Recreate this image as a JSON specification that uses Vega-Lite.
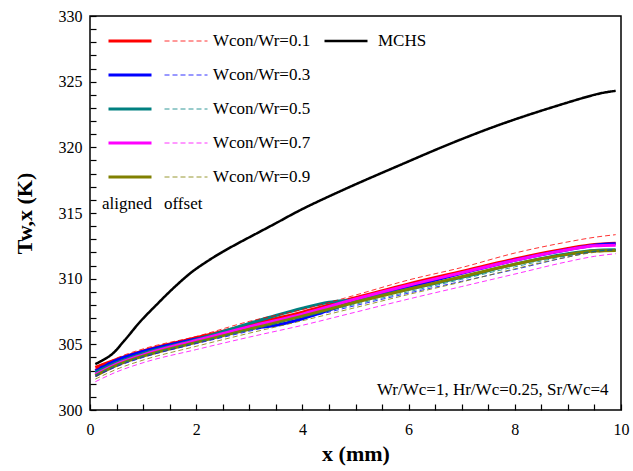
{
  "$schema": "https://vega.github.io/schema/vega-lite/v6.json",
  "width": 531,
  "height": 394,
  "autosize": {"type": "none"},
  "padding": {"left": 90, "top": 16, "right": 12, "bottom": 61},
  "background": "white",
  "config": {
    "view": {"stroke": "black", "strokeWidth": 1.5},
    "font": "Liberation Serif"
  },
  "data": {
    "values": [
      {"x": 0.1, "T": 303.25, "ratio": 0.1, "case": "Wcon/Wr=0.1", "layout": "aligned"},
      {"x": 0.5, "T": 303.85, "ratio": 0.1, "case": "Wcon/Wr=0.1", "layout": "aligned"},
      {"x": 1, "T": 304.5, "ratio": 0.1, "case": "Wcon/Wr=0.1", "layout": "aligned"},
      {"x": 2, "T": 305.5, "ratio": 0.1, "case": "Wcon/Wr=0.1", "layout": "aligned"},
      {"x": 3, "T": 306.5, "ratio": 0.1, "case": "Wcon/Wr=0.1", "layout": "aligned"},
      {"x": 4, "T": 307.45, "ratio": 0.1, "case": "Wcon/Wr=0.1", "layout": "aligned"},
      {"x": 5, "T": 308.55, "ratio": 0.1, "case": "Wcon/Wr=0.1", "layout": "aligned"},
      {"x": 6, "T": 309.6, "ratio": 0.1, "case": "Wcon/Wr=0.1", "layout": "aligned"},
      {"x": 7, "T": 310.55, "ratio": 0.1, "case": "Wcon/Wr=0.1", "layout": "aligned"},
      {"x": 8, "T": 311.5, "ratio": 0.1, "case": "Wcon/Wr=0.1", "layout": "aligned"},
      {"x": 9, "T": 312.3, "ratio": 0.1, "case": "Wcon/Wr=0.1", "layout": "aligned"},
      {"x": 9.5, "T": 312.6, "ratio": 0.1, "case": "Wcon/Wr=0.1", "layout": "aligned"},
      {"x": 9.9, "T": 312.7, "ratio": 0.1, "case": "Wcon/Wr=0.1", "layout": "aligned"},

      {"x": 0.1, "T": 303.0, "ratio": 0.3, "case": "Wcon/Wr=0.3", "layout": "aligned"},
      {"x": 0.5, "T": 303.8, "ratio": 0.3, "case": "Wcon/Wr=0.3", "layout": "aligned"},
      {"x": 1, "T": 304.45, "ratio": 0.3, "case": "Wcon/Wr=0.3", "layout": "aligned"},
      {"x": 2, "T": 305.4, "ratio": 0.3, "case": "Wcon/Wr=0.3", "layout": "aligned"},
      {"x": 3, "T": 306.2, "ratio": 0.3, "case": "Wcon/Wr=0.3", "layout": "aligned"},
      {"x": 3.5, "T": 306.45, "ratio": 0.3, "case": "Wcon/Wr=0.3", "layout": "aligned"},
      {"x": 4, "T": 306.95, "ratio": 0.3, "case": "Wcon/Wr=0.3", "layout": "aligned"},
      {"x": 4.5, "T": 307.6, "ratio": 0.3, "case": "Wcon/Wr=0.3", "layout": "aligned"},
      {"x": 5, "T": 308.3, "ratio": 0.3, "case": "Wcon/Wr=0.3", "layout": "aligned"},
      {"x": 6, "T": 309.35, "ratio": 0.3, "case": "Wcon/Wr=0.3", "layout": "aligned"},
      {"x": 7, "T": 310.4, "ratio": 0.3, "case": "Wcon/Wr=0.3", "layout": "aligned"},
      {"x": 8, "T": 311.4, "ratio": 0.3, "case": "Wcon/Wr=0.3", "layout": "aligned"},
      {"x": 9, "T": 312.2, "ratio": 0.3, "case": "Wcon/Wr=0.3", "layout": "aligned"},
      {"x": 9.5, "T": 312.55, "ratio": 0.3, "case": "Wcon/Wr=0.3", "layout": "aligned"},
      {"x": 9.9, "T": 312.65, "ratio": 0.3, "case": "Wcon/Wr=0.3", "layout": "aligned"},

      {"x": 0.1, "T": 302.85, "ratio": 0.5, "case": "Wcon/Wr=0.5", "layout": "aligned"},
      {"x": 0.5, "T": 303.6, "ratio": 0.5, "case": "Wcon/Wr=0.5", "layout": "aligned"},
      {"x": 1, "T": 304.3, "ratio": 0.5, "case": "Wcon/Wr=0.5", "layout": "aligned"},
      {"x": 2, "T": 305.35, "ratio": 0.5, "case": "Wcon/Wr=0.5", "layout": "aligned"},
      {"x": 3, "T": 306.6, "ratio": 0.5, "case": "Wcon/Wr=0.5", "layout": "aligned"},
      {"x": 3.5, "T": 307.2, "ratio": 0.5, "case": "Wcon/Wr=0.5", "layout": "aligned"},
      {"x": 4, "T": 307.75, "ratio": 0.5, "case": "Wcon/Wr=0.5", "layout": "aligned"},
      {"x": 4.5, "T": 308.2, "ratio": 0.5, "case": "Wcon/Wr=0.5", "layout": "aligned"},
      {"x": 5, "T": 308.4, "ratio": 0.5, "case": "Wcon/Wr=0.5", "layout": "aligned"},
      {"x": 6, "T": 309.2, "ratio": 0.5, "case": "Wcon/Wr=0.5", "layout": "aligned"},
      {"x": 7, "T": 310.1, "ratio": 0.5, "case": "Wcon/Wr=0.5", "layout": "aligned"},
      {"x": 8, "T": 311.1, "ratio": 0.5, "case": "Wcon/Wr=0.5", "layout": "aligned"},
      {"x": 9, "T": 311.9, "ratio": 0.5, "case": "Wcon/Wr=0.5", "layout": "aligned"},
      {"x": 9.5, "T": 312.15, "ratio": 0.5, "case": "Wcon/Wr=0.5", "layout": "aligned"},
      {"x": 9.9, "T": 312.2, "ratio": 0.5, "case": "Wcon/Wr=0.5", "layout": "aligned"},

      {"x": 0.1, "T": 302.7, "ratio": 0.7, "case": "Wcon/Wr=0.7", "layout": "aligned"},
      {"x": 0.5, "T": 303.5, "ratio": 0.7, "case": "Wcon/Wr=0.7", "layout": "aligned"},
      {"x": 1, "T": 304.2, "ratio": 0.7, "case": "Wcon/Wr=0.7", "layout": "aligned"},
      {"x": 2, "T": 305.3, "ratio": 0.7, "case": "Wcon/Wr=0.7", "layout": "aligned"},
      {"x": 3, "T": 306.35, "ratio": 0.7, "case": "Wcon/Wr=0.7", "layout": "aligned"},
      {"x": 4, "T": 307.3, "ratio": 0.7, "case": "Wcon/Wr=0.7", "layout": "aligned"},
      {"x": 5, "T": 308.45, "ratio": 0.7, "case": "Wcon/Wr=0.7", "layout": "aligned"},
      {"x": 6, "T": 309.5, "ratio": 0.7, "case": "Wcon/Wr=0.7", "layout": "aligned"},
      {"x": 7, "T": 310.45, "ratio": 0.7, "case": "Wcon/Wr=0.7", "layout": "aligned"},
      {"x": 8, "T": 311.4, "ratio": 0.7, "case": "Wcon/Wr=0.7", "layout": "aligned"},
      {"x": 9, "T": 312.2, "ratio": 0.7, "case": "Wcon/Wr=0.7", "layout": "aligned"},
      {"x": 9.5, "T": 312.5, "ratio": 0.7, "case": "Wcon/Wr=0.7", "layout": "aligned"},
      {"x": 9.9, "T": 312.55, "ratio": 0.7, "case": "Wcon/Wr=0.7", "layout": "aligned"},

      {"x": 0.1, "T": 302.6, "ratio": 0.9, "case": "Wcon/Wr=0.9", "layout": "aligned"},
      {"x": 0.5, "T": 303.4, "ratio": 0.9, "case": "Wcon/Wr=0.9", "layout": "aligned"},
      {"x": 1, "T": 304.1, "ratio": 0.9, "case": "Wcon/Wr=0.9", "layout": "aligned"},
      {"x": 2, "T": 305.15, "ratio": 0.9, "case": "Wcon/Wr=0.9", "layout": "aligned"},
      {"x": 3, "T": 306.15, "ratio": 0.9, "case": "Wcon/Wr=0.9", "layout": "aligned"},
      {"x": 4, "T": 307.15, "ratio": 0.9, "case": "Wcon/Wr=0.9", "layout": "aligned"},
      {"x": 5, "T": 308.2, "ratio": 0.9, "case": "Wcon/Wr=0.9", "layout": "aligned"},
      {"x": 6, "T": 309.2, "ratio": 0.9, "case": "Wcon/Wr=0.9", "layout": "aligned"},
      {"x": 7, "T": 310.15, "ratio": 0.9, "case": "Wcon/Wr=0.9", "layout": "aligned"},
      {"x": 8, "T": 311.1, "ratio": 0.9, "case": "Wcon/Wr=0.9", "layout": "aligned"},
      {"x": 9, "T": 311.85, "ratio": 0.9, "case": "Wcon/Wr=0.9", "layout": "aligned"},
      {"x": 9.5, "T": 312.1, "ratio": 0.9, "case": "Wcon/Wr=0.9", "layout": "aligned"},
      {"x": 9.9, "T": 312.15, "ratio": 0.9, "case": "Wcon/Wr=0.9", "layout": "aligned"},

      {"x": 0.1, "T": 303.1, "ratio": 0.1, "case": "Wcon/Wr=0.1", "layout": "offset"},
      {"x": 0.5, "T": 303.95, "ratio": 0.1, "case": "Wcon/Wr=0.1", "layout": "offset"},
      {"x": 1, "T": 304.65, "ratio": 0.1, "case": "Wcon/Wr=0.1", "layout": "offset"},
      {"x": 2, "T": 305.6, "ratio": 0.1, "case": "Wcon/Wr=0.1", "layout": "offset"},
      {"x": 3, "T": 306.75, "ratio": 0.1, "case": "Wcon/Wr=0.1", "layout": "offset"},
      {"x": 4, "T": 307.65, "ratio": 0.1, "case": "Wcon/Wr=0.1", "layout": "offset"},
      {"x": 5, "T": 308.75, "ratio": 0.1, "case": "Wcon/Wr=0.1", "layout": "offset"},
      {"x": 6, "T": 309.9, "ratio": 0.1, "case": "Wcon/Wr=0.1", "layout": "offset"},
      {"x": 7, "T": 310.85, "ratio": 0.1, "case": "Wcon/Wr=0.1", "layout": "offset"},
      {"x": 8, "T": 311.95, "ratio": 0.1, "case": "Wcon/Wr=0.1", "layout": "offset"},
      {"x": 9, "T": 312.8, "ratio": 0.1, "case": "Wcon/Wr=0.1", "layout": "offset"},
      {"x": 9.5, "T": 313.15, "ratio": 0.1, "case": "Wcon/Wr=0.1", "layout": "offset"},
      {"x": 9.9, "T": 313.35, "ratio": 0.1, "case": "Wcon/Wr=0.1", "layout": "offset"},

      {"x": 0.1, "T": 302.55, "ratio": 0.3, "case": "Wcon/Wr=0.3", "layout": "offset"},
      {"x": 0.5, "T": 303.3, "ratio": 0.3, "case": "Wcon/Wr=0.3", "layout": "offset"},
      {"x": 1, "T": 304.0, "ratio": 0.3, "case": "Wcon/Wr=0.3", "layout": "offset"},
      {"x": 2, "T": 305.05, "ratio": 0.3, "case": "Wcon/Wr=0.3", "layout": "offset"},
      {"x": 3, "T": 306.0, "ratio": 0.3, "case": "Wcon/Wr=0.3", "layout": "offset"},
      {"x": 4, "T": 306.95, "ratio": 0.3, "case": "Wcon/Wr=0.3", "layout": "offset"},
      {"x": 5, "T": 307.95, "ratio": 0.3, "case": "Wcon/Wr=0.3", "layout": "offset"},
      {"x": 6, "T": 308.9, "ratio": 0.3, "case": "Wcon/Wr=0.3", "layout": "offset"},
      {"x": 7, "T": 309.8, "ratio": 0.3, "case": "Wcon/Wr=0.3", "layout": "offset"},
      {"x": 8, "T": 310.7, "ratio": 0.3, "case": "Wcon/Wr=0.3", "layout": "offset"},
      {"x": 9, "T": 311.65, "ratio": 0.3, "case": "Wcon/Wr=0.3", "layout": "offset"},
      {"x": 9.5, "T": 312.05, "ratio": 0.3, "case": "Wcon/Wr=0.3", "layout": "offset"},
      {"x": 9.9, "T": 312.2, "ratio": 0.3, "case": "Wcon/Wr=0.3", "layout": "offset"},

      {"x": 0.1, "T": 302.65, "ratio": 0.5, "case": "Wcon/Wr=0.5", "layout": "offset"},
      {"x": 0.5, "T": 303.4, "ratio": 0.5, "case": "Wcon/Wr=0.5", "layout": "offset"},
      {"x": 1, "T": 304.1, "ratio": 0.5, "case": "Wcon/Wr=0.5", "layout": "offset"},
      {"x": 2, "T": 305.15, "ratio": 0.5, "case": "Wcon/Wr=0.5", "layout": "offset"},
      {"x": 3, "T": 306.1, "ratio": 0.5, "case": "Wcon/Wr=0.5", "layout": "offset"},
      {"x": 4, "T": 307.05, "ratio": 0.5, "case": "Wcon/Wr=0.5", "layout": "offset"},
      {"x": 5, "T": 308.05, "ratio": 0.5, "case": "Wcon/Wr=0.5", "layout": "offset"},
      {"x": 6, "T": 309.0, "ratio": 0.5, "case": "Wcon/Wr=0.5", "layout": "offset"},
      {"x": 7, "T": 309.95, "ratio": 0.5, "case": "Wcon/Wr=0.5", "layout": "offset"},
      {"x": 8, "T": 310.9, "ratio": 0.5, "case": "Wcon/Wr=0.5", "layout": "offset"},
      {"x": 9, "T": 311.75, "ratio": 0.5, "case": "Wcon/Wr=0.5", "layout": "offset"},
      {"x": 9.5, "T": 312.1, "ratio": 0.5, "case": "Wcon/Wr=0.5", "layout": "offset"},
      {"x": 9.9, "T": 312.2, "ratio": 0.5, "case": "Wcon/Wr=0.5", "layout": "offset"},

      {"x": 0.1, "T": 302.15, "ratio": 0.7, "case": "Wcon/Wr=0.7", "layout": "offset"},
      {"x": 0.5, "T": 302.9, "ratio": 0.7, "case": "Wcon/Wr=0.7", "layout": "offset"},
      {"x": 1, "T": 303.6, "ratio": 0.7, "case": "Wcon/Wr=0.7", "layout": "offset"},
      {"x": 2, "T": 304.6, "ratio": 0.7, "case": "Wcon/Wr=0.7", "layout": "offset"},
      {"x": 3, "T": 305.55, "ratio": 0.7, "case": "Wcon/Wr=0.7", "layout": "offset"},
      {"x": 4, "T": 306.45, "ratio": 0.7, "case": "Wcon/Wr=0.7", "layout": "offset"},
      {"x": 5, "T": 307.45, "ratio": 0.7, "case": "Wcon/Wr=0.7", "layout": "offset"},
      {"x": 6, "T": 308.45, "ratio": 0.7, "case": "Wcon/Wr=0.7", "layout": "offset"},
      {"x": 7, "T": 309.4, "ratio": 0.7, "case": "Wcon/Wr=0.7", "layout": "offset"},
      {"x": 8, "T": 310.35, "ratio": 0.7, "case": "Wcon/Wr=0.7", "layout": "offset"},
      {"x": 9, "T": 311.3, "ratio": 0.7, "case": "Wcon/Wr=0.7", "layout": "offset"},
      {"x": 9.5, "T": 311.7, "ratio": 0.7, "case": "Wcon/Wr=0.7", "layout": "offset"},
      {"x": 9.9, "T": 311.9, "ratio": 0.7, "case": "Wcon/Wr=0.7", "layout": "offset"},

      {"x": 0.1, "T": 302.35, "ratio": 0.9, "case": "Wcon/Wr=0.9", "layout": "offset"},
      {"x": 0.5, "T": 303.1, "ratio": 0.9, "case": "Wcon/Wr=0.9", "layout": "offset"},
      {"x": 1, "T": 303.8, "ratio": 0.9, "case": "Wcon/Wr=0.9", "layout": "offset"},
      {"x": 2, "T": 304.85, "ratio": 0.9, "case": "Wcon/Wr=0.9", "layout": "offset"},
      {"x": 3, "T": 305.85, "ratio": 0.9, "case": "Wcon/Wr=0.9", "layout": "offset"},
      {"x": 4, "T": 306.8, "ratio": 0.9, "case": "Wcon/Wr=0.9", "layout": "offset"},
      {"x": 5, "T": 307.8, "ratio": 0.9, "case": "Wcon/Wr=0.9", "layout": "offset"},
      {"x": 6, "T": 308.8, "ratio": 0.9, "case": "Wcon/Wr=0.9", "layout": "offset"},
      {"x": 7, "T": 309.75, "ratio": 0.9, "case": "Wcon/Wr=0.9", "layout": "offset"},
      {"x": 8, "T": 310.75, "ratio": 0.9, "case": "Wcon/Wr=0.9", "layout": "offset"},
      {"x": 9, "T": 311.65, "ratio": 0.9, "case": "Wcon/Wr=0.9", "layout": "offset"},
      {"x": 9.5, "T": 312.0, "ratio": 0.9, "case": "Wcon/Wr=0.9", "layout": "offset"},
      {"x": 9.9, "T": 312.1, "ratio": 0.9, "case": "Wcon/Wr=0.9", "layout": "offset"},

      {"x": 0.1, "T": 303.5, "case": "MCHS", "layout": "MCHS"},
      {"x": 0.4, "T": 304.2, "case": "MCHS", "layout": "MCHS"},
      {"x": 0.65, "T": 305.3, "case": "MCHS", "layout": "MCHS"},
      {"x": 0.95, "T": 306.75, "case": "MCHS", "layout": "MCHS"},
      {"x": 1.25, "T": 308.0, "case": "MCHS", "layout": "MCHS"},
      {"x": 1.55, "T": 309.2, "case": "MCHS", "layout": "MCHS"},
      {"x": 1.9, "T": 310.45, "case": "MCHS", "layout": "MCHS"},
      {"x": 2.2, "T": 311.3, "case": "MCHS", "layout": "MCHS"},
      {"x": 2.5, "T": 312.05, "case": "MCHS", "layout": "MCHS"},
      {"x": 2.8, "T": 312.72, "case": "MCHS", "layout": "MCHS"},
      {"x": 3.15, "T": 313.47, "case": "MCHS", "layout": "MCHS"},
      {"x": 3.5, "T": 314.22, "case": "MCHS", "layout": "MCHS"},
      {"x": 3.8, "T": 314.88, "case": "MCHS", "layout": "MCHS"},
      {"x": 4.1, "T": 315.5, "case": "MCHS", "layout": "MCHS"},
      {"x": 4.9, "T": 317.0, "case": "MCHS", "layout": "MCHS"},
      {"x": 5.85, "T": 318.67, "case": "MCHS", "layout": "MCHS"},
      {"x": 6.8, "T": 320.3, "case": "MCHS", "layout": "MCHS"},
      {"x": 7.7, "T": 321.7, "case": "MCHS", "layout": "MCHS"},
      {"x": 8.65, "T": 322.98, "case": "MCHS", "layout": "MCHS"},
      {"x": 9.6, "T": 324.1, "case": "MCHS", "layout": "MCHS"},
      {"x": 9.9, "T": 324.3, "case": "MCHS", "layout": "MCHS"}
    ]
  },
  "encoding": {
    "x": {
      "field": "x", "type": "quantitative",
      "scale": {"domain": [0, 10], "nice": false},
      "axis": {
        "title": "x (mm)",
        "values": [0,0.5,1,1.5,2,2.5,3,3.5,4,4.5,5,5.5,6,6.5,7,7.5,8,8.5,9,9.5,10],
        "labelExpr": "datum.value % 2 === 0 ? format(datum.value, 'd') : ''",
        "offset": -6,
        "domain": false,
        "tickSize": 6,
        "tickColor": "black", "tickWidth": 1.2,
        "gridOpacity": 0,
        "labelFont": "Liberation Serif", "labelFontSize": 16, "labelColor": "black",
        "labelPadding": 11, "labelFlush": false,
        "titleFont": "Liberation Serif", "titleFontSize": 22, "titleFontWeight": "bold", "titleColor": "black",
        "titlePadding": 6
      }
    },
    "y": {
      "field": "T", "type": "quantitative",
      "scale": {"domain": [300, 330], "nice": false, "zero": false},
      "axis": {
        "title": "Tw,x (K)",
        "values": [300,301,302,303,304,305,306,307,308,309,310,311,312,313,314,315,316,317,318,319,320,321,322,323,324,325,326,327,328,329,330],
        "labelExpr": "datum.value % 5 === 0 ? datum.label : ''",
        "offset": -6,
        "domain": false,
        "tickSize": 6,
        "tickColor": "black", "tickWidth": 1.2,
        "gridOpacity": 0,
        "labelFont": "Liberation Serif", "labelFontSize": 16, "labelColor": "black",
        "labelPadding": 8, "labelFlush": false,
        "titleFont": "Liberation Serif", "titleFontSize": 22, "titleFontWeight": "bold", "titleColor": "black",
        "titlePadding": 22
      }
    }
  },
  "layer": [
    {
      "transform": [{"filter": "datum.layout === 'aligned'"}],
      "mark": {"type": "line", "strokeWidth": 3, "interpolate": "monotone"},
      "encoding": {
        "detail": {"field": "ratio"},
        "color": {
          "field": "ratio", "type": "nominal",
          "scale": {"domain": [0.1, 0.3, 0.5, 0.7, 0.9],
                    "range": ["#ff0000","#0000ff","#008080","#ff00ff","#808000"]},
          "legend": {
            "orient": "none", "legendX": 12, "legendY": 8,
            "title": "aligned", "titleOrient": "bottom", "titleAnchor": "start",
            "titleFont": "Liberation Serif", "titleFontSize": 17, "titleFontWeight": "normal", "titleColor": "black",
            "titlePadding": 2,
            "labelExpr": "''", "labelFontSize": 17,
            "symbolType": "stroke", "symbolSize": 1849, "symbolStrokeWidth": 3, "symbolOffset": 5,
            "clipHeight": 34, "rowPadding": 0
          }
        }
      }
    },
    {
      "transform": [{"filter": "datum.layout === 'offset'"}],
      "mark": {"type": "line", "strokeWidth": 1, "strokeDash": [5, 3], "interpolate": "monotone", "opacity": 0.8},
      "encoding": {
        "detail": {"field": "case"},
        "stroke": {
          "field": "case", "type": "nominal",
          "scale": {"domain": ["Wcon/Wr=0.1","Wcon/Wr=0.3","Wcon/Wr=0.5","Wcon/Wr=0.7","Wcon/Wr=0.9"],
                    "range": ["#ff0000","#0000ff","#008080","#ff00ff","#808000"]},
          "legend": {
            "orient": "none", "legendX": 74, "legendY": 8,
            "title": "offset", "titleOrient": "bottom", "titleAnchor": "start",
            "titleFont": "Liberation Serif", "titleFontSize": 17, "titleFontWeight": "normal", "titleColor": "black",
            "titlePadding": 2,
            "labelFont": "Liberation Serif", "labelFontSize": 17, "labelColor": "black", "labelOffset": 5,
            "symbolType": "stroke", "symbolSize": 1849, "symbolStrokeWidth": 1, "symbolDash": [5, 3], "symbolOpacity": 0.8,
            "clipHeight": 34, "rowPadding": 0
          }
        }
      }
    },
    {
      "transform": [{"filter": "datum.layout === 'MCHS'"}],
      "mark": {"type": "line", "strokeWidth": 2.5, "color": "black", "interpolate": "catmull-rom"},
      "encoding": {
        "strokeDash": {
          "field": "case", "type": "nominal",
          "scale": {"domain": ["MCHS"], "range": [[1, 0]]},
          "legend": {
            "orient": "none", "legendX": 233, "legendY": 8,
            "title": null,
            "labelFont": "Liberation Serif", "labelFontSize": 17, "labelColor": "black", "labelOffset": 9,
            "symbolType": "stroke", "symbolSize": 1849, "symbolStrokeWidth": 2.5, "symbolStrokeColor": "black",
            "clipHeight": 34
          }
        },
        "opacity": {
          "field": "layout", "type": "ordinal",
          "scale": {"range": [1]},
          "legend": {
            "orient": "bottom-right", "offset": 12, "padding": 0,
            "title": null,
            "labelExpr": "'Wr/Wc=1, Hr/Wc=0.25, Sr/Wc=4'",
            "labelFont": "Liberation Serif", "labelFontSize": 17, "labelColor": "black", "labelOffset": 0,
            "labelLimit": 400,
            "symbolSize": 0, "symbolOpacity": 0, "symbolStrokeWidth": 0
          }
        }
      }
    }
  ]
}
